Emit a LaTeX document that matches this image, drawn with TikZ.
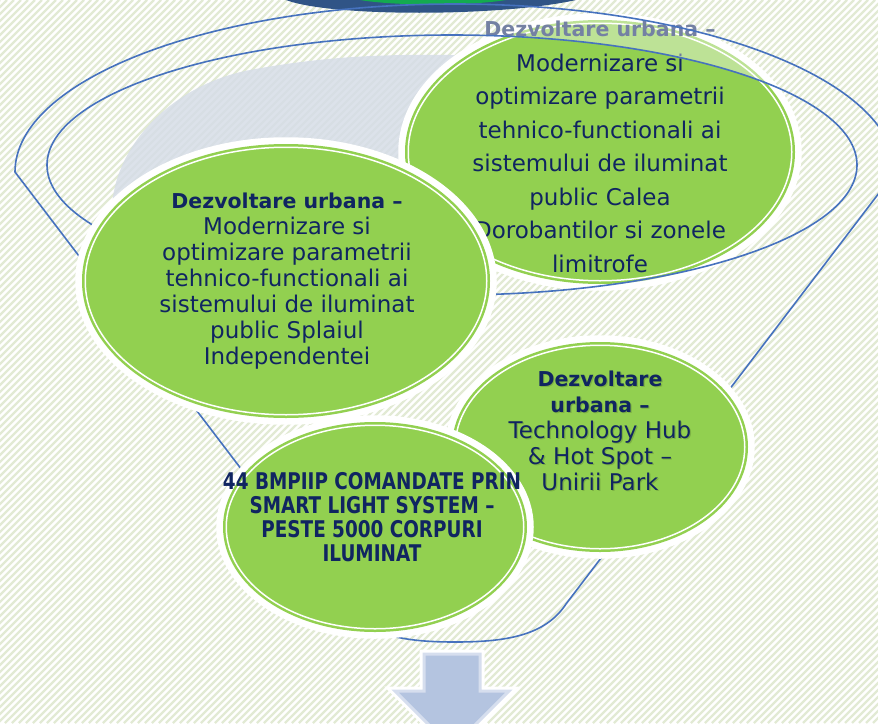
\documentclass[tikz,border=0pt]{standalone}
\usepackage{fontspec}
\setmainfont{DejaVu Sans}
\newfontfamily\condfont[FakeStretch=0.8]{DejaVu Sans}
\usetikzlibrary{shapes.geometric}
\definecolor{navy}{RGB}{16,37,97}
\definecolor{leaf}{RGB}{146,208,80}
\definecolor{stripecol}{RGB}{226,234,212}
\definecolor{fline}{RGB}{70,114,190}
\definecolor{rimgray}{RGB}{214,221,231}
\definecolor{arrowfill}{RGB}{180,196,224}
\definecolor{arrowedge}{RGB}{214,222,238}
\definecolor{topnavy}{RGB}{48,84,134}
\definecolor{topgreen}{RGB}{20,170,80}
\newcommand{\ttlfont}{\bfseries\fontsize{20.5}{26}\selectfont}
\begin{document}
\begin{tikzpicture}[x=1pt,y=1pt,
  blob/.style={ellipse, inner sep=0pt, outer sep=0pt, fill=leaf,
    preaction={draw=white, line width=20pt},
    postaction={draw=leaf, line width=2.5pt, double=white, double distance=1.5pt}},
  txt/.style={text=navy, align=center, inner sep=0pt},
  bodyA/.style={font=\fontsize{23}{33.5}\selectfont},
  bodyB/.style={font=\fontsize{23}{26}\selectfont},
  funnel/.style={draw=fline, line width=1.6pt}
]
\useasboundingbox (0,0) rectangle (878,-723);
\clip (0,0) rectangle (878,-723);
% background
\fill[white] (0,0) rectangle (878,-723);
\foreach \i in {0,...,232} {\draw[stripecol, line width=2.2pt] ({-723+7*\i},-723) -- ({7*\i},0);}
% top partial shape
\fill[topnavy] (286,0) .. controls (330,-17) and (500,-17) .. (576,0) -- cycle;
\fill[topgreen] (360,0) .. controls (395,-6) and (470,-6) .. (506,0) -- cycle;
% gray inner shade
\fill[rimgray, opacity=.85] (112,-215) .. controls (110,-150) and (170,-85) .. (250,-70)
  .. controls (320,-57) and (380,-54) .. (450,-55) -- (540,-60) -- (540,-250) -- (300,-250) -- cycle;
% right top ellipse
\node[blob, minimum width=383.5pt, minimum height=257.5pt] (calea) at (600,-152) {};
\node[txt, bodyA] (caleatext) at (600,-163) {Modernizare si\\optimizare parametrii\\tehnico-functionali ai\\sistemului de iluminat\\public Calea\\Dorobantilor si zonele\\limitrofe};
% rim overlay
\begin{scope}
\clip (600,-152) ellipse [x radius=196, y radius=133];
\fill[white, opacity=.4, even odd rule] (455,-172) ellipse [x radius=440, y radius=168] (452,-165) ellipse [x radius=405, y radius=130];
\end{scope}
\node[txt, text=navy!58!white, font=\ttlfont] (caleatitle) at (600,-29) {Dezvoltare urbana –};
% funnel outline
\coordinate (fl) at (15,-172);
\coordinate (bl) at (344,-604);
\coordinate (br) at (566,-604);
\coordinate (bm) at (455,-642);
\draw[funnel] (fl) arc[start angle=180, end angle=0, x radius=440, y radius=168] -- (br)
  .. controls (545,-636) and (505,-642) .. (bm)
  .. controls (405,-642) and (365,-636) .. (bl) -- cycle;
\draw[funnel] (452,-165) ellipse [x radius=405, y radius=130];
% left ellipse
\node[blob, minimum width=401.5pt, minimum height=267.5pt] (splai) at (286,-281) {};
\node[txt, bodyB] (splaitext) at (287,-281) {{\ttlfont Dezvoltare urbana –}\\Modernizare si\\optimizare parametrii\\tehnico-functionali ai\\sistemului de iluminat\\public Splaiul\\Independentei};
% technology hub
\node[blob, minimum width=289.5pt, minimum height=203.5pt] (hub) at (600,-447) {};
\node[txt, bodyB, text=black, opacity=.15] (hubshadow) at (601.2,-432.2) {{\ttlfont Dezvoltare}\\{\ttlfont urbana –}\\Technology Hub\\\& Hot Spot –\\Unirii Park};
\node[txt, bodyB] (hubtext) at (600,-431) {{\ttlfont Dezvoltare}\\{\ttlfont urbana –}\\Technology Hub\\\& Hot Spot –\\Unirii Park};
% bottom circle
\node[blob, minimum width=297.5pt, minimum height=203.5pt] (smart) at (375,-527) {};
\node[txt, font=\condfont\bfseries\fontsize{23}{24}\selectfont] (smarttext) at (372,-517) {44 BMPIIP COMANDATE PRIN\\SMART LIGHT SYSTEM –\\PESTE 5000 CORPURI\\ILUMINAT};
% arrow
\path[draw=white, line width=9pt, line join=miter, fill=white] (424,-654) -- (480,-654) -- (480,-691) -- (509,-691) -- (452,-748) -- (395,-691) -- (424,-691) -- cycle;
\path[draw=arrowedge, line width=3pt, fill=arrowfill, line join=miter] (424,-654) -- (480,-654) -- (480,-691) -- (509,-691) -- (452,-748) -- (395,-691) -- (424,-691) -- cycle;
\end{tikzpicture}
\end{document}
